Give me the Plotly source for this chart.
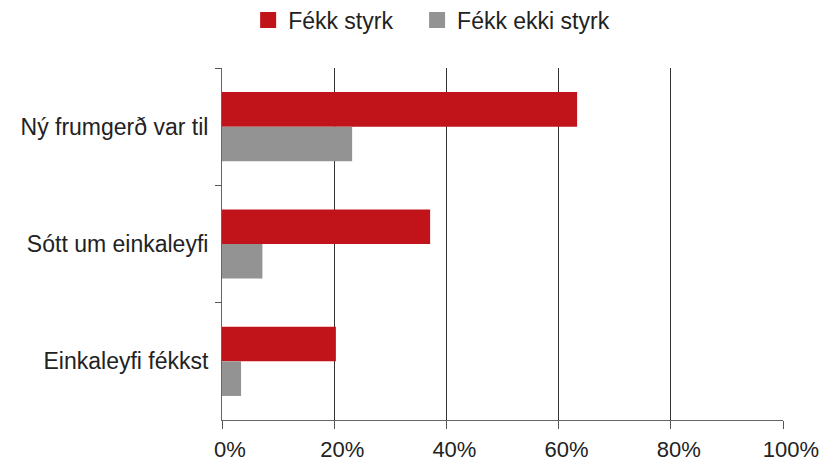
import plotly.graph_objects as go

categories = ["Ný frumgerð var til", "Sótt um einkaleyfi", "Einkaleyfi fékkst"]
fekk_styrk = [63.3, 37.1, 20.3]
fekk_ekki_styrk = [23.2, 7.2, 3.4]
x_ticks = [0, 20, 40, 60, 80, 100]
x_labels = ["0%", "20%", "40%", "60%", "80%", "100%"]

red = "#C1141A"
grey = "#939393"

fig = go.Figure()
fig.add_trace(go.Bar(y=categories, x=fekk_styrk, orientation="h", showlegend=False,
                     name="Fékk styrk", marker=dict(color=red, line=dict(width=0))))
fig.add_trace(go.Bar(y=categories, x=fekk_ekki_styrk, orientation="h", showlegend=False,
                     name="Fékk ekki styrk", marker=dict(color=grey, line=dict(width=0))))
# legend entries with bigger square symbols (nbsp padding widens the gap between items)
for name, col in [("Fékk styrk\u00a0\u00a0\u00a0", red), ("Fékk ekki styrk", grey)]:
    fig.add_trace(go.Scatter(x=[None], y=[None], mode="markers", name=name,
                             marker=dict(symbol="square", size=17, color=col)))

fig.update_layout(
    width=823, height=465,
    barmode="group", bargap=0.41, bargroupgap=0,
    plot_bgcolor="white", paper_bgcolor="white",
    margin=dict(l=222, r=40, t=68, b=45),
    font=dict(family="Liberation Sans, Arial, sans-serif", size=22, color="#222222"),
    legend=dict(orientation="h", xref="container", yref="container",
                x=0.3015, xanchor="left", y=0.957, yanchor="middle",
                font=dict(size=23)),
)
fig.update_xaxes(range=[0, 100], tickvals=x_ticks, ticktext=x_labels,
                 showgrid=True, gridcolor="#333333", gridwidth=1,
                 showline=True, linecolor="#666666", linewidth=1,
                 ticks="outside", ticklen=8, tickcolor="#555555",
                 zeroline=False, ticklabelstandoff=2, ticklabelshift=8,
                 automargin=False)
fig.update_yaxes(autorange="reversed", type="category",
                 showline=True, linecolor="#666666", linewidth=1,
                 ticks="outside", ticklen=6, tickcolor="#555555",
                 tickson="boundaries", showgrid=False, ticklabelstandoff=8,
                 tickfont=dict(size=23), automargin=False)

fig.write_html("out.html", config={"displayModeBar": False},
               post_script="document.body.style.margin='0px';")
